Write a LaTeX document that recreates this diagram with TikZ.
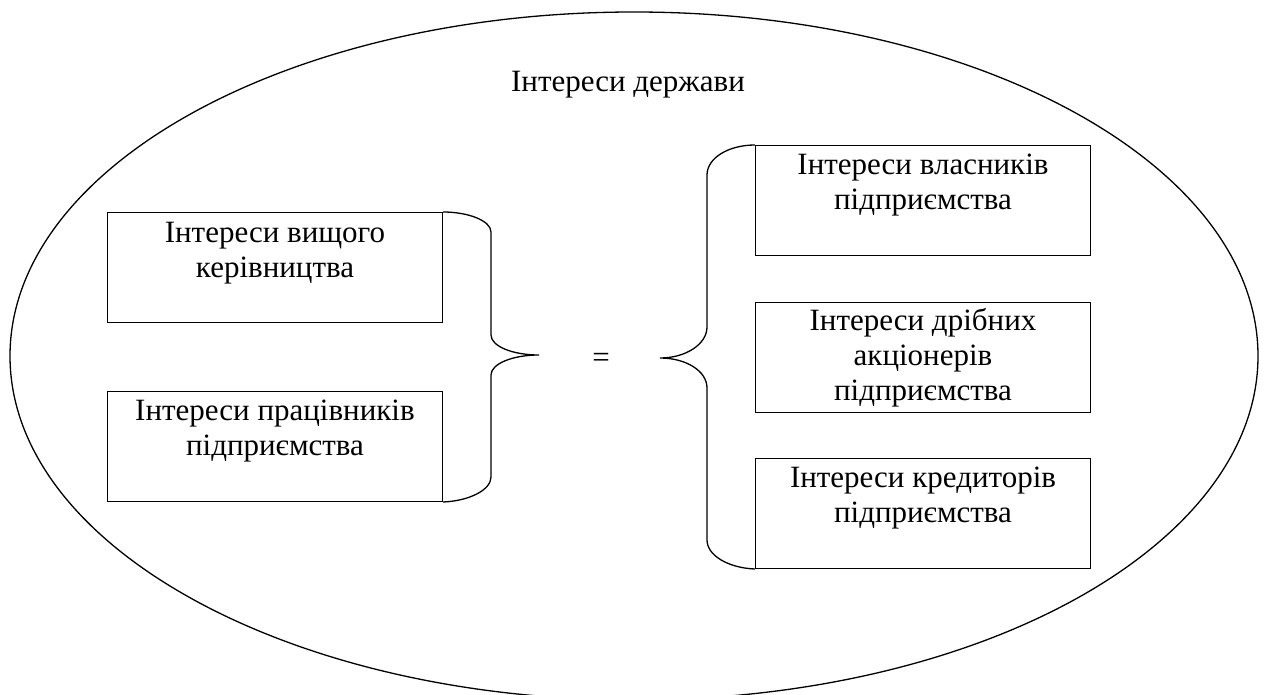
\documentclass[tikz,border=0pt]{standalone}
\usepackage{fontspec}
\setmainfont{Liberation Serif}
\begin{document}
\begin{tikzpicture}[x=1pt,y=-1pt,
  box/.style={draw, line width=1pt, inner sep=0pt, minimum width=335pt, minimum height=110pt, anchor=north west},
  lbl/.style={font=\fontsize{31}{35}\selectfont, align=center, anchor=base, inner sep=0pt},
  bracestyle/.style={line width=1.3pt},
  oval/.style={line width=1.3pt}
]
\useasboundingbox (0,0) rectangle (1264,695);
\clip (0,0) rectangle (1264,695);
\draw[oval] (634,356) ellipse [x radius=624pt, y radius=344pt];
\node[lbl] (title) at (628,92) {Інтереси держави};
% left boxes
\node[box] (mgmt) at (107,212) {};
\node[box] (staff) at (107,391) {};
\node[lbl] (tmgmt) at ([yshift=-65pt]mgmt.north) {Інтереси вищого\\керівництва};
\node[lbl] (tstaff) at ([yshift=-64pt]staff.north) {Інтереси працівників\\підприємства};
% right boxes
\node[box] (own) at (755,145) {};
\node[box] (small) at (755,302) {};
\node[box] (cred) at (755,458) {};
\node[lbl] (town) at ([yshift=-65pt]own.north) {Інтереси власників\\підприємства};
\node[lbl] (tsmall) at ([yshift=-98pt]small.north) {Інтереси дрібних\\акціонерів\\підприємства};
\node[lbl] (tcred) at ([yshift=-64pt]cred.north) {Інтереси кредиторів\\підприємства};
% equal sign
\node[font=\fontsize{31}{35}\selectfont, inner sep=0pt] (eq) at (601,360) {=};
% braces
\coordinate (ltip) at (539,355);
\coordinate (rtip) at (660,358);
\draw[bracestyle] (mgmt.north east) .. controls (469,212) and (491,221) .. (491,232)
  -- (491,335) .. controls (491,346) and (512,355) .. (ltip)
  .. controls (512,355) and (491,364) .. (491,375)
  -- (491,477) .. controls (491,490) and (469,501) .. (staff.south east);
\draw[bracestyle] (own.north west) .. controls (728.5,145) and (707,158) .. (707,175)
  -- (707,327) .. controls (707,344) and (686,358) .. (rtip)
  .. controls (686,358) and (707,371) .. (707,388)
  -- (707,540) .. controls (707,555.5) and (728.5,568) .. (cred.south west);
\end{tikzpicture}
\end{document}
